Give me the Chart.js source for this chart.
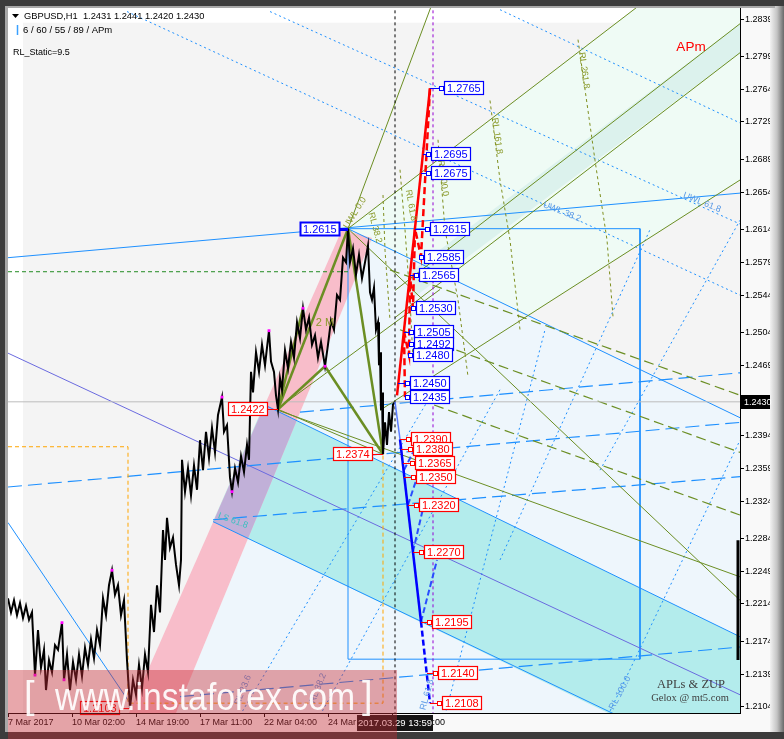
<!DOCTYPE html>
<html>
<head>
<meta charset="utf-8">
<script src="https://cdn.jsdelivr.net/npm/chart.js@4.4.1/dist/chart.umd.min.js"></script>
<style>
  html, body { margin: 0; padding: 0; background: #f9f9f9; }
  canvas { display: block; }
</style>
</head>
<body>
<canvas id="chart" width="784" height="739"></canvas>
<script>
// GBPUSD H1 - APm / ZUP projection chart
const xTickBars = [0, 64, 128, 192, 256, 320, 384];
const xTickLabels = ['7 Mar 2017', '10 Mar 02:00', '14 Mar 19:00', '17 Mar 11:00', '22 Mar 04:00', '24 Mar 20:00', '28 Mar 13:00'];
const yTickValues = [1.2839, 1.2799, 1.2764, 1.2729, 1.2689, 1.2654, 1.2614, 1.2579, 1.2544, 1.2504, 1.2469,
  1.2434, 1.2394, 1.2359, 1.2324, 1.2284, 1.2249, 1.2214, 1.2174, 1.2139, 1.2104];
const yMin = 1.20975, yMax = 1.28508;
const lastPrice = 1.2430;
const nowBar = 387;
const nowTime = '2017.03.29 13:59';

// [bar, price]
const pricePath = [
  [0,1.2220],[3,1.2205],[6,1.2218],[9,1.2202],[12,1.2215],[15,1.2199],[18,1.2212],[21,1.2197],[24,1.2205],
  [27,1.2138],[30,1.2186],[33,1.2146],[36,1.2165],[38,1.2122],[41,1.2154],[44,1.2141],[47,1.2170],[50,1.2165],
  [54,1.2194],[56,1.2133],[59,1.2160],[62,1.2122],[65,1.2152],[68,1.2133],[71,1.2160],[74,1.2137],[77,1.2167],
  [80,1.2149],[83,1.2176],[86,1.2156],[89,1.2186],[92,1.2170],[95,1.2220],[98,1.2202],[101,1.2234],[104,1.2250],
  [107,1.2224],[110,1.2234],[113,1.2202],[116,1.2218],[119,1.2154],[122,1.2103],[125,1.2133],[128,1.2117],
  [131,1.2149],[134,1.2124],[137,1.2160],[140,1.2141],[143,1.2213],[146,1.2184],[149,1.2234],[152,1.2205],
  [155,1.2293],[157,1.2261],[159,1.2306],[162,1.2274],[165,1.2285],[168,1.2256],[171,1.2234],[173,1.2261],
  [174,1.2368],[177,1.2334],[180,1.2359],[183,1.2330],[186,1.2362],[189,1.2336],[192,1.2389],[195,1.2357],
  [198,1.2398],[201,1.2370],[204,1.2402],[207,1.2376],[210,1.2416],[214,1.2435],[216,1.2398],[219,1.2405],
  [222,1.2349],[224,1.2334],[227,1.2359],[230,1.2344],[233,1.2372],[236,1.2355],[239,1.2384],[241,1.2368],
  [243,1.2462],[245,1.2440],[248,1.2483],[251,1.2462],[254,1.2491],[257,1.2469],[259,1.2488],[261,1.2506],
  [263,1.2473],[266,1.2462],[268,1.2437],[270,1.2422],[272,1.2455],[274,1.2443],[277,1.2485],[280,1.2466],
  [283,1.2494],[286,1.2477],[289,1.2515],[292,1.2498],[295,1.2530],[298,1.2507],[301,1.2520],[304,1.2491],
  [307,1.2501],[310,1.2477],[313,1.2494],[317,1.2468],[320,1.2491],[323,1.2517],[326,1.2507],[329,1.2544],
  [332,1.2539],[335,1.2584],[338,1.2579],[340,1.2615],[342,1.2579],[345,1.2594],[348,1.2566],[351,1.2587],
  [354,1.2562],[357,1.2579],[360,1.2597],[362,1.2547],[364,1.2539],[366,1.2552],[368,1.2507],[370,1.2515],
  [371,1.2469],[372,1.2483],[373,1.2421],[374,1.2440],[375,1.2374],[377,1.2408],[379,1.2384],[381,1.2419],
  [383,1.2398],[385,1.2427],[387,1.2430]
];
const swingPoints = [[27,1.2138],[54,1.2194],[56,1.2133],[104,1.2250],[214,1.2435],[224,1.2334],[261,1.2506],[295,1.2530],[317,1.2468]];

// zones
const greyZone = [[15,1.2835],[732,1.2835],[732,1.2095],[15,1.2095]];
const aliceZone = [[167,1.2095],[364,1.2605],[732,1.2413],[732,1.2095]];
const mintZone = [[340,1.2615],[633,1.2855],[732,1.2855],[732,1.2667],[520,1.2522]];
const mintStripe = [[404,1.2570],[732,1.2834],[732,1.2803],[404,1.2540]];
const tealZone = [[256,1.2427],[732,1.2179],[732,1.2095],[605,1.2095],[205,1.2302]];
const pinkBand = [[120,1.2095],[334,1.2614],[364,1.2605],[167,1.2095]];

// trend lines
const dottedBlue = [
  [[119,1.2847],[732,1.2544]], [[262,1.2847],[732,1.2620]], [[492,1.2849],[732,1.2728]],
  [[232,1.2095],[432,1.2453]], [[312,1.2095],[492,1.2443]], [[437,1.2095],[537,1.2507]],
  [[492,1.2261],[642,1.2614]], [[600,1.2095],[732,1.2389]], [[592,1.2357],[732,1.2624]]
];
const dashedBlue = [
  [[292,1.2419],[732,1.2461]], [[0,1.2339],[732,1.2408]], [[205,1.2304],[732,1.2350]], [[172,1.2115],[732,1.2168]]
];
const solidBlue = [
  [[0,1.2584],[732,1.2653]], [[340,1.2615],[732,1.2413]], [[256,1.2427],[732,1.2179]],
  [[205,1.2302],[605,1.2097]], [[0,1.2301],[122,1.2108]],
  [[340,1.2615],[632,1.2615],[632,1.2155],[340,1.2155],[340,1.2615]]
];
const slateLine = [[0,1.2482],[732,1.2117]];
const oliveThin = [
  [[340,1.2615],[424,1.2855]], [[340,1.2615],[633,1.2855]], [[387,1.2549],[732,1.2834]],
  [[387,1.2520],[732,1.2803]], [[372,1.2421],[732,1.2667]], [[270,1.2421],[732,1.2243]],
  [[340,1.2615],[732,1.2218]], [[270,1.2423],[432,1.2550]], [[270,1.2422],[375,1.2374]]
];
const oliveDashed = [
  [[382,1.2571],[732,1.2437]], [[392,1.2507],[732,1.2376]], [[412,1.2432],[732,1.2309]]
];
const oliveArcs = [
  [[430,1.2710],[437,1.2614],[450,1.2539],[460,1.2457]],
  [[482,1.2752],[492,1.2667],[502,1.2603],[512,1.2507]],
  [[570,1.2817],[587,1.2688],[599,1.2603],[605,1.2521]],
  [[392,1.2678],[397,1.2614],[402,1.2539],[405,1.2475]],
  [[375,1.2651],[377,1.2592],[382,1.2517]]
];
const oliveThick = [
  [[270,1.2422],[340,1.2615]], [[340,1.2615],[375,1.2374]], [[270,1.2422],[295,1.2530]],
  [[270,1.2422],[317,1.2468]], [[317,1.2468],[375,1.2374]]
];
const greenLevel = [[0,1.2569],[340,1.2569]];
const orangeBox = [[0,1.2382],[120,1.2382],[120,1.2108],[375,1.2108],[375,1.2373]];

// projections
const redSolid = [[389,1.2437],[422,1.2765]];
const redDashed = [[422,1.2765],[413,1.2585],[407,1.2615],[405,1.2530],[402,1.2565],[401,1.2480],[396,1.2505],[397,1.2435]];
const blueSolid = [[392,1.2390],[413,1.2195]];
const blueDashed = [[413,1.2195],[422,1.2108]];
const blueRetrace = [
  [[413,1.2195],[429,1.2261]], [[405,1.2270],[415,1.2316]], [[400,1.2320],[409,1.2349]], [[396,1.2357],[405,1.2376]]
];

// [value, anchor bar, box bar]
const upTags = [[1.2765,422,436],[1.2695,415,423],[1.2675,413,423],[1.2615,407,422],[1.2585,413,416],[1.2565,402,411],
  [1.2530,405,408],[1.2505,396,406],[1.2492,401,406],[1.2480,401,405],[1.2450,390,402],[1.2435,397,402]];
const downTags = [[1.2390,392,403],[1.2380,393,405],[1.2365,395,407],[1.2350,396,408],[1.2320,400,411],
  [1.2270,405,416],[1.2195,413,424],[1.2140,419,430],[1.2108,422,434]];
const pivotTags = [[1.2615,340,332,'#0000ff'],[1.2422,270,260,'#ff0000'],[1.2374,375,365,'#ff0000'],[1.2103,122,112,'#ff0000']];

const notes = [
  { t: 'UWL 0.0', x: 347, y: 1.2632, a: -58, c: '#8a9a2a' },
  { t: 'RL 38.2', x: 367, y: 1.2616, a: 75, c: '#8a9a2a' },
  { t: 'RL 61.8', x: 403, y: 1.2640, a: 80, c: '#8a9a2a' },
  { t: 'RL 200.0', x: 435, y: 1.2669, a: 82, c: '#8a9a2a' },
  { t: 'RL 161.8', x: 489, y: 1.2714, a: 82, c: '#8a9a2a' },
  { t: 'RL 261.8', x: 576, y: 1.2784, a: 82, c: '#8a9a2a' },
  { t: 'UWL 38.2', x: 554, y: 1.2633, a: 22, c: '#5a9ae6' },
  { t: 'UWL 61.8', x: 694, y: 1.2643, a: 22, c: '#5a9ae6' },
  { t: '2 M', x: 317, y: 1.2514, a: 0, c: '#8a9a2a', s: 11 },
  { t: 'LS 61.8', x: 225, y: 1.2303, a: 20, c: '#3cc0c0' },
  { t: 'RL 23.6', x: 235, y: 1.2122, a: -68, c: '#5a9ae6' },
  { t: 'RL 38.2', x: 310, y: 1.2124, a: -68, c: '#5a9ae6' },
  { t: 'RL 61.8', x: 419, y: 1.2117, a: -75, c: '#5a9ae6' },
  { t: 'RL 100.0', x: 612, y: 1.2119, a: -62, c: '#5a9ae6' }
];

function pts(list) { return list.map(p => ({ x: p[0], y: p[1] })); }
function seg(list, color, width, dash) {
  return { type: 'line', data: pts(list), borderColor: color, borderWidth: width, borderDash: dash || [],
    pointRadius: 0, fill: false, tension: 0 };
}

const layers = [];
dottedBlue.forEach(l => layers.push(seg(l, '#1e90ff', 1, [2, 3])));
dashedBlue.forEach(l => layers.push(seg(l, '#1e90ff', 1.2, [14, 6])));
solidBlue.forEach(l => layers.push(seg(l, '#1e90ff', 1)));
layers.push(seg(slateLine, '#6a6adf', 1));
oliveThin.forEach(l => layers.push(seg(l, '#6b8e23', 1)));
oliveDashed.forEach(l => layers.push(seg(l, '#6b8e23', 1.2, [10, 5])));
oliveArcs.forEach(l => layers.push(seg(l, '#7f8f1f', 1, [3, 3])));
layers.push(seg(greenLevel, '#228b22', 1, [4, 3]));
layers.push(seg(orangeBox, '#ffa500', 1, [4, 3]));
layers.push(seg([[0, lastPrice], [732, lastPrice]], '#bdbdbd', 1));
layers.push(seg([[nowBar, 1.2095], [nowBar, 1.2855]], '#000000', 1, [3, 3]));
layers.push(seg([[425, 1.2095], [425, 1.2855]], '#9400d3', 1, [3, 3]));
layers.push(seg([[730, 1.2282], [730, 1.2154]], '#000000', 3));
oliveThick.forEach(l => layers.push(seg(l, '#6b8e23', 2.5)));
layers.push(seg(pricePath, '#000000', 2));
layers.push({ type: 'line', data: pts(swingPoints), showLine: false, pointStyle: 'rect', pointRadius: 2,
  backgroundColor: '#ff00ff', borderWidth: 0 });
layers.push(seg([[387, lastPrice], [392, 1.2390]], '#5a7dff', 1.5));
blueRetrace.forEach(l => layers.push(seg(l, '#2a4dff', 2, [6, 3])));
layers.push(seg(blueDashed, '#0000ff', 2.5, [6, 3]));
layers.push(seg(blueSolid, '#0000ff', 2.5));
layers.push(seg(redDashed, '#ff0000', 2.5, [7, 4]));
layers.push(seg(redSolid, '#ff0000', 2.5));

function fillPoly(ctx, xs, ys, list, color) {
  ctx.beginPath();
  list.forEach((p, i) => {
    const px = xs.getPixelForValue(p[0]), py = ys.getPixelForValue(p[1]);
    if (i) ctx.lineTo(px, py); else ctx.moveTo(px, py);
  });
  ctx.closePath();
  ctx.fillStyle = color;
  ctx.fill();
}

function drawTag(ctx, text, y, anchorX, boxX, color, toLeft, heavy) {
  ctx.font = '11px "Liberation Sans", Arial, sans-serif';
  const w = Math.ceil(ctx.measureText(text).width) + 6, h = 14;
  const left = toLeft ? boxX - w : boxX;
  ctx.strokeStyle = color;
  ctx.lineWidth = heavy ? 3 : 1;
  ctx.beginPath();
  ctx.moveTo(anchorX, y + 0.5);
  ctx.lineTo(toLeft ? boxX : boxX - 4, y + 0.5);
  ctx.stroke();
  if (!toLeft) {
    ctx.lineWidth = 1;
    ctx.fillStyle = '#fff';
    ctx.fillRect(boxX - 5, y - 2, 4, 4);
    ctx.strokeRect(boxX - 4.5, y - 1.5, 4, 4);
  }
  ctx.fillStyle = '#fff';
  ctx.fillRect(left, y - 7, w, h);
  ctx.lineWidth = heavy ? 2 : 1.2;
  ctx.strokeRect(left + 0.5, y - 6.5, w - 1, h - 1);
  ctx.fillStyle = color;
  ctx.textAlign = 'left';
  ctx.textBaseline = 'middle';
  ctx.fillText(text, left + 3, y + 1);
}

const scenery = {
  id: 'scenery',
  beforeDraw(chart) {
    const ctx = chart.ctx, W = chart.width, H = chart.height, a = chart.chartArea;
    ctx.save();
    ctx.fillStyle = '#f9f9f9';
    ctx.fillRect(0, 0, W, H);
    const g = ctx.createLinearGradient(770, 0, W, 0);
    g.addColorStop(0, '#f2f2f2');
    g.addColorStop(0.5, '#c4c4c4');
    g.addColorStop(1, '#6a6a6a');
    ctx.fillStyle = g;
    ctx.fillRect(770, 6, W - 770, H - 6);
    ctx.fillStyle = '#3c3c3c';
    ctx.fillRect(0, 0, W, 6);
    ctx.fillRect(0, 0, 5, H);
    ctx.fillRect(0, H - 7, W, 7);
    ctx.fillStyle = '#a8a8a8';
    ctx.fillRect(5, 6, 3, H - 13);
    ctx.fillRect(5, 6, W - 14, 2);
    ctx.fillStyle = '#ffffff';
    ctx.fillRect(a.left, a.top, a.right - a.left, a.bottom - a.top);
    ctx.restore();
  },
  beforeDatasetsDraw(chart) {
    const ctx = chart.ctx, a = chart.chartArea, xs = chart.scales.x, ys = chart.scales.y;
    ctx.save();
    ctx.beginPath();
    ctx.rect(a.left, a.top, a.right - a.left, a.bottom - a.top);
    ctx.clip();
    fillPoly(ctx, xs, ys, greyZone, '#f4f4f4');
    fillPoly(ctx, xs, ys, aliceZone, '#eef6fc');
    fillPoly(ctx, xs, ys, mintZone, '#effbf5');
    fillPoly(ctx, xs, ys, mintStripe, '#dcf2ed');
    fillPoly(ctx, xs, ys, tealZone, '#b3ecec');
    fillPoly(ctx, xs, ys, pinkBand, '#f8bdca');
    // overlap of band and channel
    ctx.beginPath();
    pinkBand.forEach((p, i) => {
      const px = xs.getPixelForValue(p[0]), py = ys.getPixelForValue(p[1]);
      if (i) ctx.lineTo(px, py); else ctx.moveTo(px, py);
    });
    ctx.closePath();
    ctx.clip();
    fillPoly(ctx, xs, ys, tealZone, '#c1b0d8');
    ctx.restore();
  },
  afterDatasetsDraw(chart) {
    const ctx = chart.ctx, a = chart.chartArea, xs = chart.scales.x, ys = chart.scales.y;
    const X = v => Math.round(xs.getPixelForValue(v)), Y = v => Math.round(ys.getPixelForValue(v));
    ctx.save();
    // rotated level captions
    notes.forEach(n => {
      ctx.save();
      ctx.translate(xs.getPixelForValue(n.x), ys.getPixelForValue(n.y));
      ctx.rotate(n.a * Math.PI / 180);
      ctx.font = (n.s || 9) + 'px "Liberation Sans", Arial, sans-serif';
      ctx.fillStyle = n.c;
      ctx.textAlign = 'center';
      ctx.textBaseline = 'middle';
      ctx.fillText(n.t, 0, 0);
      ctx.restore();
    });
    upTags.forEach(t => drawTag(ctx, t[0].toFixed(4), Y(t[0]), X(t[1]), X(t[2]), '#0000ff', false, false));
    downTags.forEach(t => drawTag(ctx, t[0].toFixed(4), Y(t[0]), X(t[1]), X(t[2]), '#ff0000', false, false));
    pivotTags.forEach(t => drawTag(ctx, t[0].toFixed(4), Y(t[0]), X(t[1]), X(t[2]), t[3], true, t[3] === '#0000ff'));

    // header
    ctx.fillStyle = '#000';
    ctx.beginPath();
    ctx.moveTo(12, 14); ctx.lineTo(19, 14); ctx.lineTo(15.5, 18); ctx.closePath();
    ctx.fill();
    ctx.font = '9.3px "Liberation Sans", Arial, sans-serif';
    ctx.textAlign = 'left';
    ctx.textBaseline = 'middle';
    ctx.fillText('GBPUSD,H1  1.2431 1.2441 1.2420 1.2430', 24, 16);
    ctx.font = '9.5px "Liberation Sans", Arial, sans-serif';
    ctx.fillText('6 / 60 / 55 / 89 / APm', 23, 30);
    ctx.font = '9px "Liberation Sans", Arial, sans-serif';
    ctx.fillText('RL_Static=9.5', 13, 53);
    ctx.strokeStyle = '#3aa0ff';
    ctx.lineWidth = 1.5;
    ctx.beginPath(); ctx.moveTo(17.5, 25); ctx.lineTo(17.5, 35); ctx.stroke();

    ctx.font = '13.5px "Liberation Sans", Arial, sans-serif';
    ctx.fillStyle = '#ff0000';
    ctx.textAlign = 'center';
    ctx.fillText('APm', xs.getPixelForValue(683), ys.getPixelForValue(1.2809));
    ctx.fillStyle = '#404040';
    ctx.font = '12.5px "Liberation Serif", "DejaVu Serif", serif';
    ctx.fillText('APLs & ZUP', xs.getPixelForValue(683), ys.getPixelForValue(1.2128));
    ctx.font = '10.5px "Liberation Serif", "DejaVu Serif", serif';
    ctx.fillText('Gelox @ mt5.com', xs.getPixelForValue(682), ys.getPixelForValue(1.2113));

    // frame lines
    ctx.strokeStyle = '#000';
    ctx.lineWidth = 1;
    ctx.beginPath();
    ctx.moveTo(a.right + 0.5, a.top); ctx.lineTo(a.right + 0.5, a.bottom + 0.5); ctx.lineTo(a.left, a.bottom + 0.5);
    ctx.stroke();
    ctx.restore();
  },
  afterDraw(chart) {
    const ctx = chart.ctx, a = chart.chartArea, xs = chart.scales.x, ys = chart.scales.y;
    ctx.save();
    // last price marker on the axis
    const py = Math.round(ys.getPixelForValue(lastPrice));
    ctx.fillStyle = '#000';
    ctx.fillRect(a.right + 1, py - 7, 29, 14);
    ctx.fillStyle = '#fff';
    ctx.font = '9px "Liberation Sans", Arial, sans-serif';
    ctx.textAlign = 'left';
    ctx.textBaseline = 'middle';
    ctx.fillText(lastPrice.toFixed(4), a.right + 4, py + 1);
    // crosshair time box
    const tx = xs.getPixelForValue(nowBar);
    ctx.fillStyle = '#151515';
    ctx.fillRect(tx - 38, a.bottom + 2, 76, 16);
    ctx.fillStyle = '#fff';
    ctx.font = '9.5px "Liberation Sans", Arial, sans-serif';
    ctx.textAlign = 'center';
    ctx.fillText(nowTime, tx, a.bottom + 10.5);
    // watermark
    ctx.fillStyle = 'rgba(200, 45, 55, 0.42)';
    ctx.fillRect(a.left, 670, 389, chart.height - 670);
    ctx.fillStyle = 'rgba(255, 255, 255, 0.92)';
    ctx.font = '38px "Liberation Sans", Arial, sans-serif';
    ctx.textAlign = 'left';
    ctx.textBaseline = 'alphabetic';
    ctx.fillText('[', 24, 708);
    ctx.fillText(']', 362, 708);
    const word = 'www.instaforex.com';
    const ww = ctx.measureText(word).width;
    ctx.translate(55, 710);
    ctx.scale(300 / ww, 1);
    ctx.fillText(word, 0, 0);
    ctx.restore();
  }
};

new Chart(document.getElementById('chart'), {
  type: 'line',
  data: { datasets: layers.slice().reverse() },
  options: {
    responsive: false,
    animation: false,
    devicePixelRatio: 1,
    events: [],
    layout: { padding: { left: 8, top: 8, right: 14, bottom: 9 } },
    plugins: { legend: { display: false }, tooltip: { enabled: false } },
    scales: {
      x: {
        type: 'linear',
        min: 0,
        max: 732,
        afterBuildTicks: s => { s.ticks = xTickBars.map(v => ({ value: v })); },
        afterFit: s => { s.height = 17; },
        ticks: {
          autoSkip: false, maxRotation: 0, align: 'start', padding: 0, color: '#000',
          font: { family: '"Liberation Sans", Arial, sans-serif', size: 9 },
          callback: (v, i) => xTickLabels[i]
        },
        grid: { drawOnChartArea: false, drawTicks: true, tickLength: 4, color: '#000' },
        border: { display: true, color: '#000' }
      },
      y: {
        type: 'linear',
        position: 'right',
        min: yMin,
        max: yMax,
        afterBuildTicks: s => { s.ticks = yTickValues.map(v => ({ value: v })); },
        afterFit: s => { s.width = 30; },
        ticks: {
          autoSkip: false, padding: 1, color: '#000',
          font: { family: '"Liberation Sans", Arial, sans-serif', size: 9 },
          callback: v => Number(v).toFixed(4)
        },
        grid: { drawOnChartArea: false, drawTicks: true, tickLength: 4, color: '#000' },
        border: { display: true, color: '#000' }
      }
    }
  },
  plugins: [scenery]
});
</script>
</body>
</html>
